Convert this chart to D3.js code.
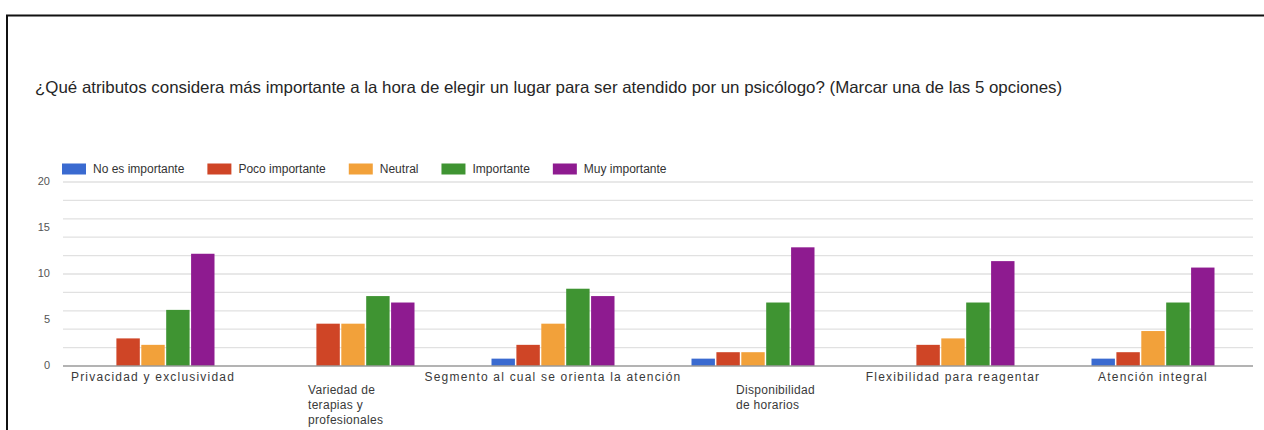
<!DOCTYPE html>
<html>
<head>
<meta charset="utf-8">
<script src="https://cdn.jsdelivr.net/npm/d3@7"></script>
<style>
  html, body { margin: 0; padding: 0; background: #fff; }
  svg { display: block; font-family: "Liberation Sans", Arial, Helvetica, sans-serif; }
</style>
</head>
<body>
<svg id="chart" width="1264" height="430"></svg>
<script>
// Survey answers: one value per attribute, one array per answer option
const title = "¿Qué atributos considera más importante a la hora de elegir un lugar para ser atendido por un psicólogo? (Marcar una de las 5 opciones)";
const categories = [
  "Privacidad y exclusividad",
  "Variedad de terapias y profesionales",
  "Segmento al cual se orienta la atención",
  "Disponibilidad de horarios",
  "Flexibilidad para reagentar",
  "Atención integral"
];
const categoryLines = [
  ["Privacidad y exclusividad"],
  ["Variedad de", "terapias y", "profesionales"],
  ["Segmento al cual se orienta la atención"],
  ["Disponibilidad", "de horarios"],
  ["Flexibilidad para reagentar"],
  ["Atención integral"]
];
const seriesNames = ["No es importante", "Poco importante", "Neutral", "Importante", "Muy importante"];
const seriesColors = ["#3a6ad0", "#cf4526", "#f2a13a", "#3f9432", "#8e1b90"];

const noEsImportante = [0, 0, 0.8, 0.8, 0, 0.8];
const pocoImportante = [3.0, 4.6, 2.3, 1.5, 2.3, 1.5];
const neutral        = [2.3, 4.6, 4.6, 1.5, 3.0, 3.8];
const importante     = [6.1, 7.6, 8.4, 6.9, 6.9, 6.9];
const muyImportante  = [12.2, 6.9, 7.6, 12.9, 11.4, 10.7];
const seriesValues = [noEsImportante, pocoImportante, neutral, importante, muyImportante];

const yTickLabels = [0, 5, 10, 15, 20];
const yGridValues = [2, 4, 6, 8, 10, 12, 14, 16, 18, 20];

const svg = d3.select("#chart");

// outer frame (open on the right and bottom edges)
svg.append("path")
  .attr("d", "M7,430 V15.5 H1264")
  .attr("fill", "none")
  .attr("stroke", "#111")
  .attr("stroke-width", 2);

// title, sized to run across the card
const titleText = svg.append("text")
  .attr("x", 35).attr("y", 93)
  .attr("fill", "#262626")
  .style("font-size", "15px")
  .text(title);
const tw = titleText.node().getComputedTextLength();
titleText.style("font-size", (15 * 1028 / tw).toFixed(2) + "px");

// scales
const x0 = d3.scaleBand().domain(categories).range([53, 1253]).paddingInner(0.385).paddingOuter(0.1925);
const x1 = d3.scaleBand().domain(seriesNames).range([0, x0.bandwidth()]).paddingInner(0.06);
const y = d3.scaleLinear().domain([0, 20]).range([366, 182]);

// gridlines
svg.append("g").selectAll("line").data(yGridValues).join("line")
  .attr("x1", 63).attr("x2", 1253)
  .attr("y1", d => y(d)).attr("y2", d => y(d))
  .attr("stroke", "#e1e1e1").attr("stroke-width", 1.3);

// y tick labels
svg.append("g").selectAll("text").data(yTickLabels).join("text")
  .attr("x", 50).attr("y", d => y(d) - 1.5)
  .attr("text-anchor", "end")
  .attr("dominant-baseline", "central")
  .attr("fill", "#555")
  .style("font-size", "11px")
  .text(d => d);

// bars
const groups = svg.append("g").selectAll("g").data(categories).join("g")
  .attr("transform", d => `translate(${x0(d)},0)`);
groups.selectAll("rect")
  .data((c, i) => seriesNames.map((s, k) => ({ s, k, v: seriesValues[k][i] })))
  .join("rect")
  .attr("x", d => x1(d.s))
  .attr("width", x1.bandwidth())
  .attr("y", d => y(d.v))
  .attr("height", d => y(0) - y(d.v))
  .attr("fill", d => seriesColors[d.k]);

// baseline
svg.append("line")
  .attr("x1", 63).attr("x2", 1253)
  .attr("y1", y(0)).attr("y2", y(0))
  .attr("stroke", "#9a9a9a").attr("stroke-width", 1.3);

// category labels: single lines centred, wrapped labels on a lower row
const wrapShift = { 1: -45, 3: -17 };
const xl = svg.append("g").style("font-size", "12px").style("letter-spacing", "1.2px").attr("fill", "#3a3a3a");
categoryLines.forEach((lines, i) => {
  const cx = x0(categories[i]) + x0.bandwidth() / 2;
  if (lines.length === 1) {
    xl.append("text").attr("x", cx).attr("y", 381).attr("text-anchor", "middle").text(lines[0]);
  } else {
    lines.forEach((ln, j) => {
      xl.append("text").attr("x", cx + wrapShift[i]).attr("y", 393.5 + j * 15)
        .style("letter-spacing", "0.3px").text(ln);
    });
  }
});

// legend
const legend = svg.append("g").attr("transform", "translate(62,169)");
let lx = 0;
seriesNames.forEach((s, k) => {
  legend.append("rect").attr("x", lx).attr("y", -5.5).attr("width", 24).attr("height", 11).attr("fill", seriesColors[k]);
  const t = legend.append("text").attr("x", lx + 31).attr("y", 0)
    .attr("dominant-baseline", "central")
    .attr("fill", "#333").style("font-size", "12px").text(s);
  lx += 31 + t.node().getComputedTextLength() + 23;
});
</script>
</body>
</html>
